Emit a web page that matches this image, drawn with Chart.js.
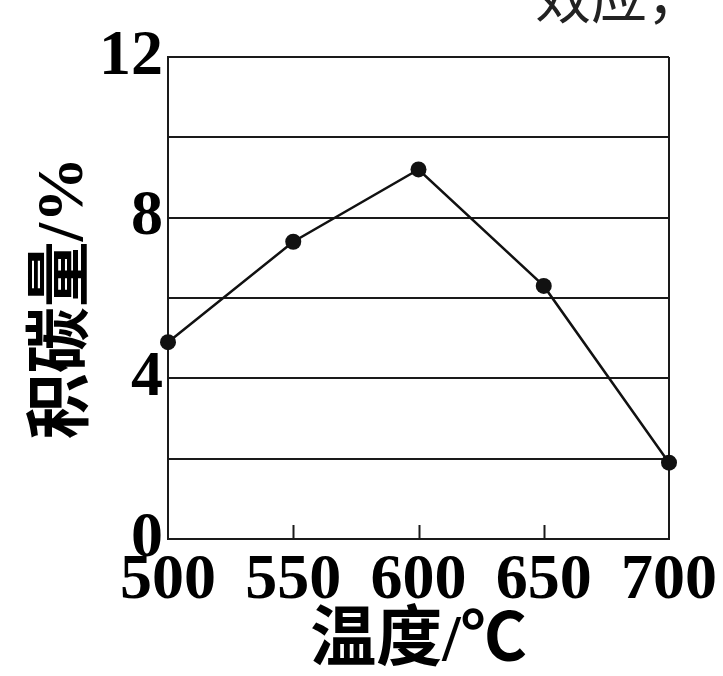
<!DOCTYPE html>
<html lang="zh">
<head>
  <meta charset="UTF-8">
  <title>积碳量与温度</title>
  <style>
    body {
      margin: 0;
      background: #fff;
    }
    #chart {
      display: block;
    }
  </style>
</head>
<body>
<canvas id="chart" width="723" height="676"></canvas>

<script src="https://cdn.jsdelivr.net/npm/chart.js"></script>
<script>
  // 温度 (℃) 和 积碳量 (%)
  const temps = [500, 550, 600, 650, 700];
  const carbon = [4.9, 7.4, 9.2, 6.3, 1.9];
  const yLabels = [0, 4, 8, 12];
  const innerTicks = [550, 600, 650];

  const serif = '"Liberation Serif", "Times New Roman", serif';
  const cjk = '"Liberation Serif", "Noto Sans CJK SC", serif';

  // small upward tick marks on the x axis + the cut-off text at the top
  const extras = {
    id: 'extras',
    afterDraw(chart) {
      const ctx = chart.ctx;
      const x = chart.scales.x;
      const bottom = chart.chartArea.bottom;
      ctx.save();
      ctx.strokeStyle = '#1a1a1a';
      ctx.lineWidth = 2;
      innerTicks.forEach(v => {
        const px = Math.round(x.getPixelForValue(v)) + 0.5;
        ctx.beginPath();
        ctx.moveTo(px, bottom);
        ctx.lineTo(px, bottom - 14);
        ctx.stroke();
      });
      ctx.fillStyle = '#222';
      ctx.font = '56px "Noto Sans CJK SC"';
      ctx.fillText('效应，', 535, 18);
      ctx.restore();
    }
  };

  new Chart(document.getElementById('chart'), {
    type: 'line',
    data: {
      datasets: [{
        data: temps.map((t, i) => ({ x: t, y: carbon[i] })),
        borderColor: '#111',
        borderWidth: 2.5,
        backgroundColor: '#111',
        pointRadius: 8,
        pointBorderWidth: 0,
        tension: 0,
        clip: false
      }]
    },
    options: {
      responsive: false,
      animation: false,
      layout: {
        padding: { top: 57, right: 54, bottom: 0, left: 0 }
      },
      plugins: {
        legend: { display: false },
        tooltip: { enabled: false }
      },
      scales: {
        x: {
          type: 'linear',
          min: 500,
          max: 700,
          afterFit: s => { s.height = 137; },
          border: { color: '#1a1a1a', width: 2 },
          grid: {
            drawTicks: false,
            lineWidth: 2,
            color: c => c.tick && c.tick.value === 700 ? '#1a1a1a' : 'rgba(0,0,0,0)'
          },
          ticks: {
            stepSize: 50,
            padding: 4,
            color: '#000',
            font: { family: serif, size: 64, weight: 'bold' }
          },
          title: {
            display: true,
            text: '温度/℃',
            color: '#000',
            font: { family: cjk, size: 66, weight: 'bold', lineHeight: 1 },
            padding: { top: 0, bottom: 0 }
          }
        },
        y: {
          min: 0,
          max: 12,
          afterFit: s => { s.width = 168; },
          border: { color: '#1a1a1a', width: 2 },
          grid: {
            drawTicks: false,
            lineWidth: 2,
            color: '#1a1a1a'
          },
          ticks: {
            stepSize: 2,
            padding: 5,
            color: '#000',
            font: { family: serif, size: 64, weight: 'bold' },
            callback: v => yLabels.includes(v) ? String(v) : ''
          },
          title: {
            display: true,
            text: '积碳量/%',
            color: '#000',
            font: { family: cjk, size: 66, weight: 'bold', lineHeight: 1 },
            padding: { top: 32, bottom: 0 }
          }
        }
      }
    },
    plugins: [extras]
  });
</script>
</body>
</html>
